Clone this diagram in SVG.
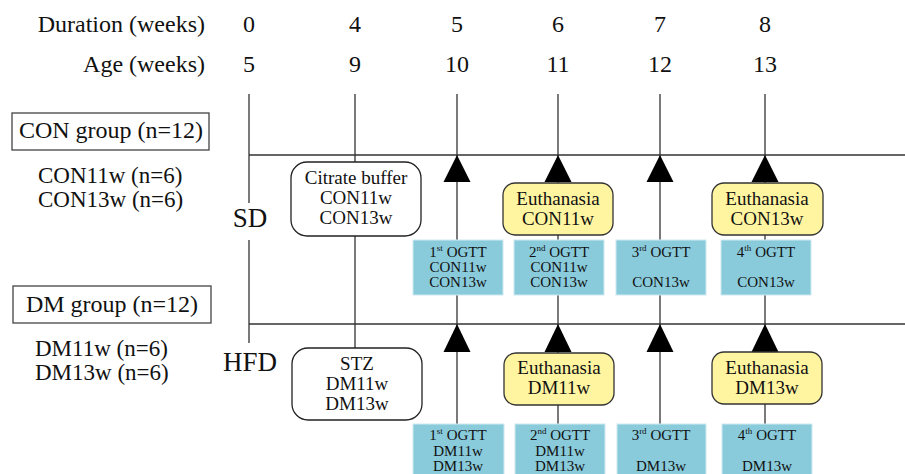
<svg xmlns="http://www.w3.org/2000/svg" width="905" height="474" viewBox="0 0 905 474">
<style>
text{font-family:"Liberation Serif","Times New Roman",serif;fill:#111}
.hd{font-size:24px}
.num{font-size:24px;text-anchor:middle}
.grp{font-size:24px;text-anchor:middle}
.sub{font-size:23px}
.diet{font-size:27px;text-anchor:middle}
.m19{font-size:19px;text-anchor:middle}
.m15{font-size:15px;text-anchor:middle}
.sup{font-size:9px}
.ln{stroke:#333;stroke-width:1.3;fill:none}
.arr{fill:#000}
.gbox{fill:#fff;stroke:#444;stroke-width:1.3}
.rbox{fill:#fff;stroke:#222;stroke-width:1.3}
.ybox{fill:#fff5a1;stroke:#333;stroke-width:1.3}
.bbox{fill:#89cbdb;stroke:#cfe9f0;stroke-width:1}
</style>
<rect width="905" height="474" fill="#fff"/>
<g id="header">
<text class="hd" x="205" y="32" text-anchor="end">Duration (weeks)</text>
<text class="hd" x="205" y="72" text-anchor="end">Age (weeks)</text>
<text class="num" x="249" y="32">0</text><text class="num" x="249" y="72">5</text>
<text class="num" x="355" y="32">4</text><text class="num" x="355" y="72">9</text>
<text class="num" x="457" y="32">5</text><text class="num" x="457" y="72">10</text>
<text class="num" x="558" y="32">6</text><text class="num" x="558" y="72">11</text>
<text class="num" x="660" y="32">7</text><text class="num" x="660" y="72">12</text>
<text class="num" x="765" y="32">8</text><text class="num" x="765" y="72">13</text>
</g>
<g id="connectors">
<path class="ln" d="M249,94V203M249,240V343M249,155H905M249,324H905"/>
<path class="ln" d="M355,94V162M355,236V348"/>
<path class="ln" d="M457,94V474M558,94V474M660,94V474M765,94V474"/>
<g class="arr">
<polygon points="457,155 443.5,182 470.5,182"/>
<polygon points="558,155 544.5,182 571.5,182"/>
<polygon points="660,155 646.5,182 673.5,182"/>
<polygon points="765,155 751.5,182 778.5,182"/>
<polygon points="457,324 443.5,352 470.5,352"/>
<polygon points="558,324 544.5,352 571.5,352"/>
<polygon points="660,324 646.5,352 673.5,352"/>
<polygon points="765,324 751.5,352 778.5,352"/>
</g>
</g>
<g id="con-group">
<rect class="gbox" x="12" y="113" width="197" height="37"/>
<text class="grp" x="111" y="138">CON group (n=12)</text>
<text class="sub" x="38" y="183">CON11w (n=6)</text>
<text class="sub" x="38" y="207">CON13w (n=6)</text>
</g>
<g id="dm-group">
<rect class="gbox" x="13" y="286" width="198" height="37"/>
<text class="grp" x="112" y="312">DM group (n=12)</text>
<text class="sub" x="35" y="356">DM11w (n=6)</text>
<text class="sub" x="35" y="380">DM13w (n=6)</text>
</g>
<g id="sd"><text class="diet" x="250" y="227">SD</text></g>
<g id="hfd"><text class="diet" x="250" y="371">HFD</text></g>
<g id="citrate">
<rect class="rbox" x="291" y="162" width="130" height="74" rx="16"/>
<text class="m19" x="356" y="184">Citrate buffer</text>
<text class="m19" x="356" y="204">CON11w</text>
<text class="m19" x="356" y="224">CON13w</text>
</g>
<g id="stz">
<rect class="rbox" x="292" y="348" width="130" height="72" rx="16"/>
<text class="m19" x="357" y="370">STZ</text>
<text class="m19" x="357" y="390">DM11w</text>
<text class="m19" x="357" y="410">DM13w</text>
</g>
<g id="euth-con11">
<rect class="ybox" x="503" y="183" width="110" height="52" rx="12"/>
<text class="m19" x="558" y="205">Euthanasia</text>
<text class="m19" x="558" y="225">CON11w</text>
</g>
<g id="euth-con13">
<rect class="ybox" x="712" y="183" width="111" height="52" rx="12"/>
<text class="m19" x="767" y="205">Euthanasia</text>
<text class="m19" x="767" y="225">CON13w</text>
</g>
<g id="euth-dm11">
<rect class="ybox" x="504" y="353" width="110" height="52" rx="12"/>
<text class="m19" x="559" y="374">Euthanasia</text>
<text class="m19" x="559" y="394">DM11w</text>
</g>
<g id="euth-dm13">
<rect class="ybox" x="712" y="352" width="110" height="52" rx="12"/>
<text class="m19" x="767" y="374">Euthanasia</text>
<text class="m19" x="767" y="394">DM13w</text>
</g>
<g id="ogtt1-con">
<rect class="bbox" x="413" y="240" width="90" height="55"/>
<text class="m15" x="458" y="257">1<tspan class="sup" dy="-6">st</tspan><tspan dy="6"> OGTT</tspan></text>
<text class="m15" x="458" y="272">CON11w</text>
<text class="m15" x="458" y="287">CON13w</text>
</g>
<g id="ogtt2-con">
<rect class="bbox" x="514" y="240" width="90" height="55"/>
<text class="m15" x="559" y="257">2<tspan class="sup" dy="-6">nd</tspan><tspan dy="6"> OGTT</tspan></text>
<text class="m15" x="559" y="272">CON11w</text>
<text class="m15" x="559" y="287">CON13w</text>
</g>
<g id="ogtt3-con">
<rect class="bbox" x="616" y="240" width="90" height="55"/>
<text class="m15" x="661" y="257">3<tspan class="sup" dy="-6">rd</tspan><tspan dy="6"> OGTT</tspan></text>
<text class="m15" x="661" y="287">CON13w</text>
</g>
<g id="ogtt4-con">
<rect class="bbox" x="721" y="240" width="90" height="55"/>
<text class="m15" x="766" y="257">4<tspan class="sup" dy="-6">th</tspan><tspan dy="6"> OGTT</tspan></text>
<text class="m15" x="766" y="287">CON13w</text>
</g>
<g id="ogtt1-dm">
<rect class="bbox" x="413" y="424" width="91" height="55"/>
<text class="m15" x="458" y="440">1<tspan class="sup" dy="-6">st</tspan><tspan dy="6"> OGTT</tspan></text>
<text class="m15" x="458" y="456">DM11w</text>
<text class="m15" x="458" y="471">DM13w</text>
</g>
<g id="ogtt2-dm">
<rect class="bbox" x="515" y="424" width="90" height="55"/>
<text class="m15" x="560" y="440">2<tspan class="sup" dy="-6">nd</tspan><tspan dy="6"> OGTT</tspan></text>
<text class="m15" x="560" y="456">DM11w</text>
<text class="m15" x="560" y="471">DM13w</text>
</g>
<g id="ogtt3-dm">
<rect class="bbox" x="617" y="424" width="89" height="55"/>
<text class="m15" x="661" y="440">3<tspan class="sup" dy="-6">rd</tspan><tspan dy="6"> OGTT</tspan></text>
<text class="m15" x="661" y="471">DM13w</text>
</g>
<g id="ogtt4-dm">
<rect class="bbox" x="722" y="424" width="90" height="55"/>
<text class="m15" x="767" y="440">4<tspan class="sup" dy="-6">th</tspan><tspan dy="6"> OGTT</tspan></text>
<text class="m15" x="767" y="471">DM13w</text>
</g>
</svg>
